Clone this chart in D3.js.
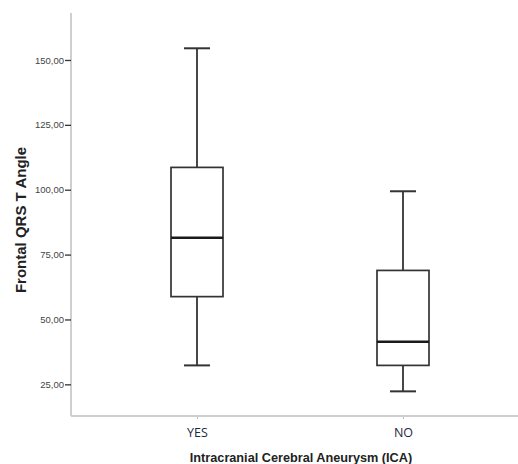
<!DOCTYPE html>
<html>
<head>
<meta charset="utf-8">
<script src="https://cdn.jsdelivr.net/npm/d3@7"></script>
<style>
  body { margin: 0; background: #fff; }
  svg { display: block; }
</style>
</head>
<body>
<div id="chart"></div>
<script>
// groups and five-number summaries
const groups = ["YES", "NO"];
const whiskerLow = [32.3, 22.3];
const q1 = [58.8, 32.3];
const median = [81.5, 41.4];
const q3 = [108.6, 68.9];
const whiskerHigh = [154.5, 99.4];
const yTicks = [25, 50, 75, 100, 125, 150];

const width = 518;
const height = 464;
const margin = { top: 13, right: 0, bottom: 48, left: 71 };
const chartWidth = width - margin.left - margin.right;
const chartHeight = height - margin.top - margin.bottom;

const svg = d3.select("#chart")
  .append("svg")
  .attr("width", width)
  .attr("height", height);

const g = svg.append("g")
  .attr("transform", `translate(${margin.left},${margin.top})`);

const yScale = d3.scaleLinear()
  .domain([12.8, 168.1])
  .range([chartHeight, 0]);

const xScale = d3.scalePoint()
  .domain(groups)
  .range([126, 332]);

const boxWidth = 52;
const capWidth = 26;

const data = groups.map((name, i) => ({
  name,
  lo: whiskerLow[i],
  q1: q1[i],
  med: median[i],
  q3: q3[i],
  hi: whiskerHigh[i]
}));

// axis lines
g.append("line")
  .attr("x1", 0).attr("x2", 0)
  .attr("y1", 0).attr("y2", chartHeight)
  .attr("stroke", "#cfcfcf")
  .attr("stroke-width", 2);

g.append("line")
  .attr("x1", 0).attr("x2", chartWidth)
  .attr("y1", chartHeight).attr("y2", chartHeight)
  .attr("stroke", "#cfcfcf")
  .attr("stroke-width", 2);

// y axis
const yAxis = d3.axisLeft(yScale)
  .tickValues(yTicks)
  .tickSize(6)
  .tickPadding(1)
  .tickFormat((d) => d3.format(".2f")(d).replace(".", ","));

const yAxisG = g.append("g").call(yAxis);
yAxisG.select(".domain").remove();
yAxisG.selectAll(".tick line")
  .attr("stroke", "#333")
  .attr("stroke-width", 1.3);
yAxisG.selectAll("text")
  .style("font-family", "Liberation Sans, Arial, sans-serif")
  .style("font-size", "9.5px")
  .style("fill", "#444");

// x axis
const xAxis = d3.axisBottom(xScale).tickSize(2).tickPadding(9);
const xAxisG = g.append("g")
  .attr("transform", `translate(0,${chartHeight + 1})`)
  .call(xAxis);
xAxisG.select(".domain").remove();
xAxisG.selectAll(".tick line").attr("stroke", "#bbb");
xAxisG.selectAll("text")
  .style("font-family", "Open Sans, sans-serif")
  .style("font-size", "12.5px")
  .style("fill", "#1e2a3a");

// boxes
const box = g.selectAll(".box")
  .data(data)
  .enter()
  .append("g")
  .attr("class", "box");

box.append("line")
  .attr("x1", (d) => xScale(d.name))
  .attr("x2", (d) => xScale(d.name))
  .attr("y1", (d) => yScale(d.hi))
  .attr("y2", (d) => yScale(d.q3))
  .attr("stroke", "#1a1a1a")
  .attr("stroke-width", 1.6);

box.append("line")
  .attr("x1", (d) => xScale(d.name))
  .attr("x2", (d) => xScale(d.name))
  .attr("y1", (d) => yScale(d.q1))
  .attr("y2", (d) => yScale(d.lo))
  .attr("stroke", "#1a1a1a")
  .attr("stroke-width", 1.6);

box.append("line")
  .attr("x1", (d) => xScale(d.name) - capWidth / 2)
  .attr("x2", (d) => xScale(d.name) + capWidth / 2)
  .attr("y1", (d) => yScale(d.hi))
  .attr("y2", (d) => yScale(d.hi))
  .attr("stroke", "#333")
  .attr("stroke-width", 2);

box.append("line")
  .attr("x1", (d) => xScale(d.name) - capWidth / 2)
  .attr("x2", (d) => xScale(d.name) + capWidth / 2)
  .attr("y1", (d) => yScale(d.lo))
  .attr("y2", (d) => yScale(d.lo))
  .attr("stroke", "#333")
  .attr("stroke-width", 2);

box.append("rect")
  .attr("x", (d) => xScale(d.name) - boxWidth / 2)
  .attr("y", (d) => yScale(d.q3))
  .attr("width", boxWidth)
  .attr("height", (d) => yScale(d.q1) - yScale(d.q3))
  .attr("fill", "#fff")
  .attr("stroke", "#333")
  .attr("stroke-width", 1.7);

box.append("line")
  .attr("x1", (d) => xScale(d.name) - boxWidth / 2)
  .attr("x2", (d) => xScale(d.name) + boxWidth / 2)
  .attr("y1", (d) => yScale(d.med))
  .attr("y2", (d) => yScale(d.med))
  .attr("stroke", "#1a1a1a")
  .attr("stroke-width", 2.4);

// axis titles
svg.append("text")
  .attr("x", 301)
  .attr("y", 462)
  .attr("text-anchor", "middle")
  .style("font-family", "Liberation Sans, Arial, sans-serif")
  .style("font-weight", "bold")
  .style("font-size", "12.7px")
  .style("fill", "#222")
  .text("Intracranial Cerebral Aneurysm (ICA)");

svg.append("text")
  .attr("transform", "rotate(-90)")
  .attr("x", -220)
  .attr("y", 26)
  .attr("text-anchor", "middle")
  .style("font-family", "Liberation Sans, Arial, sans-serif")
  .style("font-weight", "bold")
  .style("font-size", "15px")
  .style("fill", "#222")
  .text("Frontal QRS T Angle");
</script>
</body>
</html>
